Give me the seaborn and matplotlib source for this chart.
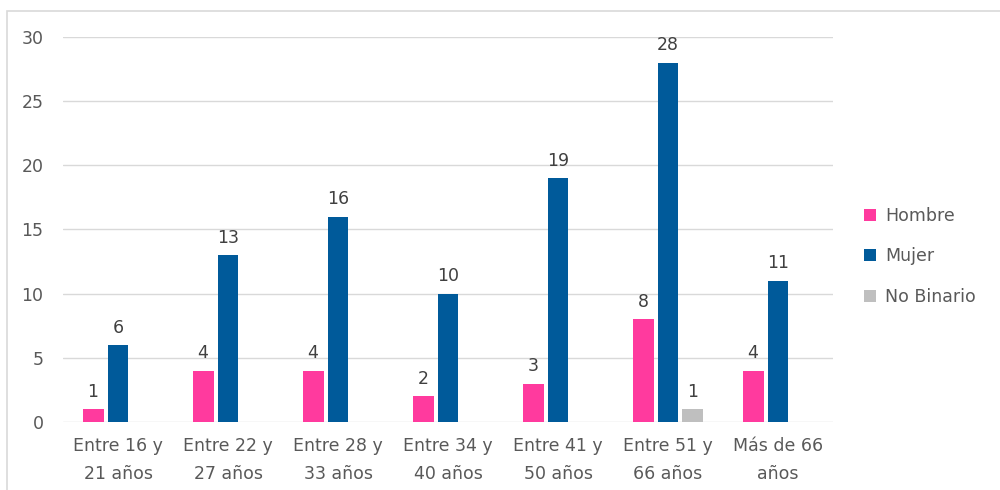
import matplotlib
matplotlib.use("Agg")
import matplotlib.pyplot as plt
import seaborn as sns
import pandas as pd
from matplotlib.patches import Rectangle

categories = ["Entre 16 y\n21 años", "Entre 22 y\n27 años", "Entre 28 y\n33 años",
              "Entre 34 y\n40 años", "Entre 41 y\n50 años", "Entre 51 y\n66 años",
              "Más de 66\naños"]
series = ["Hombre", "Mujer", "No Binario"]
hombre = [1, 4, 4, 2, 3, 8, 4]
mujer = [6, 13, 16, 10, 19, 28, 11]
no_binario = [0, 0, 0, 0, 0, 1, 0]
colors = ["#FF3A9E", "#005A9A", "#BFBFBF"]

rows = []
for s, vals in zip(series, [hombre, mujer, no_binario]):
    for c, v in zip(categories, vals):
        rows.append({"cat": c, "serie": s, "valor": v})
df = pd.DataFrame(rows)

sns.set_theme(style="white")
plt.rcParams['font.family'] = ['DejaVu Sans']
txt = "#595959"
fs = 12.5

fig = plt.figure(figsize=(10, 4.9), dpi=100)
ax = fig.add_axes([0.063, 1 - 422 / 490, 0.770, (422 - 37) / 490])

sns.barplot(data=df, x="cat", y="valor", hue="serie", order=categories,
            hue_order=series, palette=colors, width=0.68, gap=0.16,
            saturation=1, ax=ax, legend=True, edgecolor="none")

ax.set_ylim(0, 30)
ax.set_yticks(range(0, 31, 5))
ax.set_xlim(-0.5, len(categories) - 0.5)
ax.yaxis.grid(True, color="#D9D9D9", linewidth=1)
ax.set_axisbelow(True)
for sp in ax.spines.values():
    sp.set_visible(False)
ax.set_xlabel("")
ax.set_ylabel("")
ax.tick_params(axis="both", length=0, colors=txt, labelsize=fs)
ax.tick_params(axis="y", pad=14)
ax.tick_params(axis="x", pad=11)
for lab in ax.get_xticklabels():
    lab.set_linespacing(1.7)

for cont in ax.containers:
    labels = [f"{int(v)}" if v > 0 else "" for v in cont.datavalues]
    ax.bar_label(cont, labels=labels, padding=6, color="#404040", fontsize=fs)

leg = ax.legend(loc="center left", bbox_to_anchor=(1.02, 0.43), frameon=False,
                fontsize=fs, handlelength=0.7, handleheight=0.7,
                labelspacing=1.3, handletextpad=0.5)
for t in leg.get_texts():
    t.set_color(txt)

fig.patches.append(Rectangle((0.007, -0.1), 1.1, 1.1 - 11 / 490, transform=fig.transFigure,
                             fill=False, edgecolor="#D9D9D9", linewidth=1.2))

fig.savefig("out.png", dpi=100)
